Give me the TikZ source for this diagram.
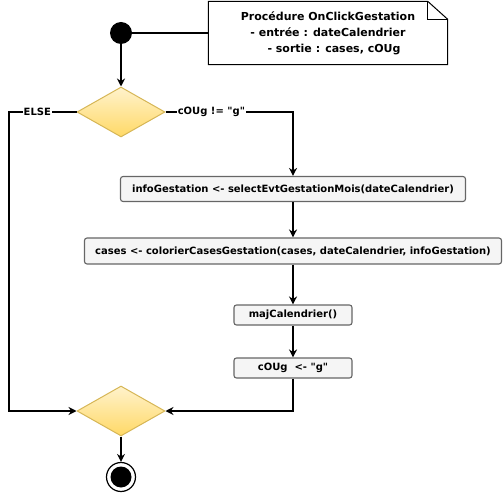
\documentclass[tikz,border=0pt]{standalone}
\usepackage{fontspec}
\setmainfont{DejaVu Sans}[Ligatures=TeXOff]
\usetikzlibrary{positioning}
\usetikzlibrary{shapes.geometric}
\usetikzlibrary{arrows.meta}
\definecolor{decfill}{RGB}{255,242,204}
\definecolor{decfilldark}{RGB}{255,217,102}
\definecolor{decline}{RGB}{214,182,86}
\definecolor{actfill}{RGB}{245,245,245}
\definecolor{actline}{RGB}{102,102,102}

\begin{document}
\begin{tikzpicture}[x=1pt, y=-1pt,
    flow/.style={line width=1.2pt, -{Stealth[length=8pt, width=8pt]}},
    decision/.style={draw=decline, line width=1pt, diamond, inner sep=0pt,
        minimum width=88pt, minimum height=50pt, top color=decfill, bottom color=decfilldark},
    action/.style={draw=actline, line width=1.1pt, fill=actfill, rounded corners=2.5pt,
        inner sep=0pt, font=\bfseries\fontsize{10}{12}\selectfont},
    guard/.style={fill=white, inner sep=1pt, font=\bfseries\fontsize{10}{12}\selectfont}]
    \useasboundingbox (0,0) rectangle (503,494);

    \node[circle, fill=black, minimum size=22pt, inner sep=0pt] (start) at (121,33) {};
    \node[right of=start, node distance=207pt, minimum width=239pt, minimum height=63pt,
        align=center, font=\bfseries\fontsize{11}{16}\selectfont] (note)
        {Procédure OnClickGestation\\- entrée : dateCalendrier\\\hspace*{12pt}- sortie : cases, cOUg};
    \draw[line width=1pt] (note.north west) -- ([xshift=-20pt]note.north east)
        -- ([yshift=-18pt]note.north east) -- (note.south east) -- (note.south west) -- cycle;
    \draw[line width=1pt] ([xshift=-20pt]note.north east) -- ++(0,18) -- ([yshift=-18pt]note.north east);

    \node[decision, below of=start, node distance=79pt] (d1) {};
    \node[action, below of=d1, node distance=77pt, xshift=172pt, minimum width=345pt, minimum height=25pt] (act1)
        {infoGestation <- selectEvtGestationMois(dateCalendrier)};
    \node[action, below of=act1, node distance=62pt, minimum width=417pt, minimum height=26pt] (act2)
        {cases <- colorierCasesGestation(cases, dateCalendrier, infoGestation)};
    \node[action, below of=act2, node distance=64pt, minimum width=118pt, minimum height=20pt] (act3)
        {majCalendrier()};
    \node[action, below of=act3, node distance=53pt, minimum width=118pt, minimum height=20pt] (act4)
        {cOUg\ \ <- "g"};
    \node[decision, below of=d1, node distance=299pt] (d2) {};
    \node[circle, draw=black, line width=1.2pt, fill=white, minimum size=29pt, below of=d2, node distance=66pt] (end) {};
    \node[circle, fill=black, minimum size=21pt, inner sep=0pt] (endin) at (end) {};

    \coordinate (elseturn) at (9,112);

    \draw[line width=1.2pt] (start) -- (note);
    \draw[flow] (start) -- (d1);
    \draw[flow] (d1.west) -- node[guard, pos=0.58] {ELSE} (elseturn) |- (d2.west);
    \draw[flow] (d1.east) -- node[guard, pos=0.36] {cOUg != "g"} (act1.north |- d1.east) -- (act1.north);
    \draw[flow] (act1) -- (act2);
    \draw[flow] (act2) -- (act3);
    \draw[flow] (act3) -- (act4);
    \draw[flow] (act4.south) |- (d2.east);
    \draw[flow] (d2) -- (end);
\end{tikzpicture}
\end{document}
